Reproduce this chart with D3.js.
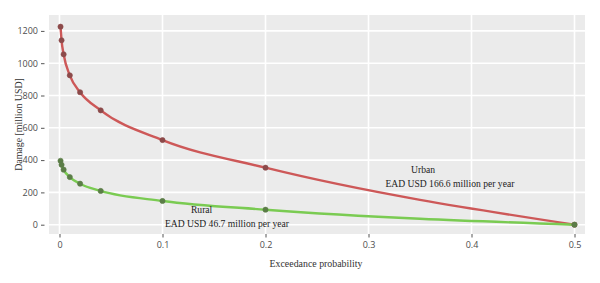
<!DOCTYPE html>
<html><head><meta charset="utf-8">
<script src="https://cdn.jsdelivr.net/npm/d3@7"></script>
<style>body{margin:0;background:#fff;} svg{display:block;}</style>
</head><body>
<script>
const probabilities = [0.001, 0.002, 0.004, 0.01, 0.02, 0.04, 0.1, 0.2, 0.5];
const urbanDamage = [1226, 1142, 1055, 925, 820, 708, 524, 353, 0];
const ruralDamage = [396, 371, 341, 295, 254, 209, 147, 93, 0];
const xTicks = [0, 0.1, 0.2, 0.3, 0.4, 0.5];
const xTickLabels = ["0", "0.1", "0.2", "0.3", "0.4", "0.5"];
const yTicks = [0, 200, 400, 600, 800, 1000, 1200];
const series = [
  {name: "Urban", values: urbanDamage, line: "#cd5858", point: "#8c4a4a",
   label: ["Urban", "EAD USD 166.6 million per year"], lx: [0.353, 0.379], ly: [320, 233]},
  {name: "Rural", values: ruralDamage, line: "#7acb52", point: "#5b7d47",
   label: ["Rural", "EAD USD 46.7 million per year"], lx: [0.138, 0.1626], ly: [72, -14]}
];

const W = 600, H = 283;
const svg = d3.select("body").append("svg").attr("width", W).attr("height", H);
const panel = {l: 49, t: 15, r: 585, b: 234};
const x = d3.scaleLinear().domain([0, 0.5]).range([59.5, 574.5]);
const y = d3.scaleLinear().domain([0, 1200]).range([224.7, 30.9]);

svg.append("rect").attr("x", panel.l).attr("y", panel.t)
  .attr("width", panel.r - panel.l).attr("height", panel.b - panel.t).attr("fill", "#ebebeb");

// gridlines
svg.append("g").selectAll("line").data(xTicks).join("line")
  .attr("x1", d => x(d)).attr("x2", d => x(d)).attr("y1", panel.t).attr("y2", panel.b)
  .attr("stroke", "#fff").attr("stroke-width", 1.6);
svg.append("g").selectAll("line").data(yTicks).join("line")
  .attr("y1", d => y(d)).attr("y2", d => y(d)).attr("x1", panel.l).attr("x2", panel.r)
  .attr("stroke", "#fff").attr("stroke-width", 1.6);

// axes
const xAxis = d3.axisBottom(x).tickValues(xTicks).tickFormat((d, i) => xTickLabels[i]).tickSize(3.5).tickPadding(4);
const gx = svg.append("g").attr("transform", `translate(0,${panel.b})`).call(xAxis);
gx.select(".domain").remove();
gx.selectAll("line").attr("stroke", "#555");
gx.selectAll("text").attr("fill", "#4d4d4d").style("font-family", "'Open Sans', sans-serif").style("font-size", "9px");

const yAxis = d3.axisLeft(y).tickValues(yTicks).tickFormat(d3.format("d")).tickSize(3.5).tickPadding(3);
const gy = svg.append("g").attr("transform", `translate(${panel.l - 4.5},0)`).call(yAxis);
gy.select(".domain").remove();
gy.selectAll("line").attr("stroke", "#555");
gy.selectAll("text").attr("fill", "#4d4d4d").style("font-family", "'Open Sans', sans-serif").style("font-size", "9px");

// lines and points
const line = d3.line().x((d, i) => x(probabilities[i])).y(d => y(d)).curve(d3.curveMonotoneX);
series.forEach(s => {
  svg.append("path").datum(s.values).attr("d", line)
    .attr("fill", "none").attr("stroke", s.line).attr("stroke-width", 2.4);
});
series.forEach(s => {
  svg.append("g").selectAll("circle").data(s.values).join("circle")
    .attr("cx", (d, i) => x(probabilities[i])).attr("cy", d => y(d)).attr("r", 2.6)
    .attr("fill", s.point).attr("stroke", s.point).attr("stroke-opacity", 0.6);
});

// annotations
series.forEach(s => {
  s.label.forEach((t, i) => {
    svg.append("text").attr("x", x(s.lx[i])).attr("y", y(s.ly[i]))
      .attr("text-anchor", "middle").attr("fill", "#222")
      .style("font-family", "'Liberation Serif', 'Times New Roman', serif").style("font-size", "9.6px")
      .text(t);
  });
});

// axis titles
svg.append("text").attr("x", 316).attr("y", 267).attr("text-anchor", "middle")
  .attr("fill", "#333").style("font-family", "'Liberation Serif', serif").style("font-size", "9.9px")
  .text("Exceedance probability");
svg.append("text").attr("transform", `translate(22,${(panel.t + panel.b) / 2}) rotate(-90)`)
  .attr("text-anchor", "middle")
  .attr("fill", "#333").style("font-family", "'Liberation Serif', serif").style("font-size", "9.9px")
  .text("Damage [million USD]");
</script>
</body></html>
